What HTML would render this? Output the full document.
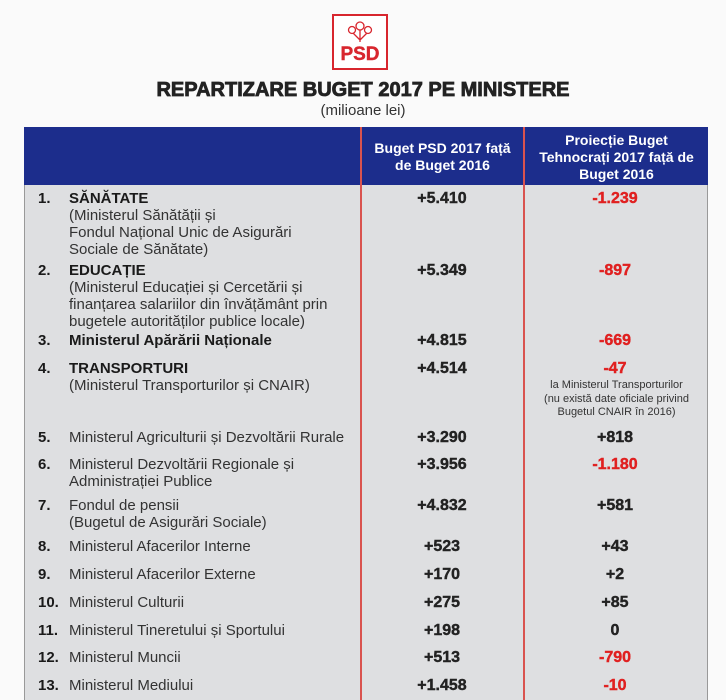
<!DOCTYPE html>
<html><head><meta charset="utf-8"><style>
body{margin:0;width:726px;height:700px;overflow:hidden;background:#fafafa;position:relative;font-family:"Liberation Sans",sans-serif;}
.a{position:absolute;white-space:nowrap}
.n{font-size:15px;color:#333;line-height:17px}
.b{font-weight:bold;color:#1a1a1a}
.v{font-weight:bold;font-size:16px;color:#222;text-align:center;width:160px;-webkit-text-stroke:0.4px currentColor}
.r{color:#e02020}
</style></head><body>
<div class="a" style="left:332px;top:14px;width:56px;height:56px;border:2px solid #d8262e;box-sizing:border-box;background:#fff"></div>
<svg class="a" style="left:345px;top:20px" width="30" height="24" viewBox="0 0 30 24"><g fill="none" stroke="#d8262e" stroke-width="1.3"><circle cx="15" cy="6" r="4"/><circle cx="7" cy="10" r="3.5"/><circle cx="23" cy="10" r="3.5"/><path d="M15 10v12M8 13l7 7M22 13l-7 7"/></g></svg>
<div class="a" style="left:332px;top:44px;width:56px;text-align:center;font-weight:bold;font-size:19px;color:#d8262e;-webkit-text-stroke:0.4px #d8262e">PSD</div>
<div class="a" style="left:0;width:726px;top:79px;text-align:center;font-weight:900;font-size:20px;color:#222;-webkit-text-stroke:0.8px #222">REPARTIZARE BUGET 2017 PE MINISTERE</div>
<div class="a" style="left:0;width:726px;top:102px;text-align:center;font-size:15px;color:#333">(milioane lei)</div>
<div class="a" style="left:24px;top:127px;width:684px;height:573px;background:#dedfe1;border-left:1px solid #999;border-right:1px solid #999;box-sizing:border-box"></div>
<div class="a" style="left:24px;top:127px;width:684px;height:58px;background:#1c2d8c"></div>
<div class="a" style="left:360px;top:127px;width:2px;height:573px;background:#d9534f"></div>
<div class="a" style="left:523px;top:127px;width:2px;height:573px;background:#d9534f"></div>
<div class="a" style="left:362px;top:140px;width:161px;text-align:center;color:#fff;font-weight:bold;font-size:14px;line-height:17px">Buget PSD 2017 față<br>de Buget 2016</div>
<div class="a" style="left:525px;top:132px;width:183px;text-align:center;color:#fff;font-weight:bold;font-size:14px;line-height:17px">Proiecție Buget<br>Tehnocrați 2017 față de<br>Buget 2016</div>

<div class="a n b" style="left:38px;top:190px">1.</div>
<div class="a n" style="left:69px;top:190px"><b class="b">SĂNĂTATE</b><br>(Ministerul Sănătății și<br>Fondul Național Unic de Asigurări<br>Sociale de Sănătate)</div>
<div class="a n b" style="left:38px;top:262px">2.</div>
<div class="a n" style="left:69px;top:262px"><b class="b">EDUCAȚIE</b><br>(Ministerul Educației și Cercetării și<br>finanțarea salariilor din învățământ prin<br>bugetele autorităților publice locale)</div>
<div class="a n b" style="left:38px;top:332px">3.</div>
<div class="a n b" style="left:69px;top:332px">Ministerul Apărării Naționale</div>
<div class="a n b" style="left:38px;top:360px">4.</div>
<div class="a n" style="left:69px;top:360px"><b class="b">TRANSPORTURI</b><br>(Ministerul Transporturilor și CNAIR)</div>
<div class="a n b" style="left:38px;top:429px">5.</div><div class="a n" style="left:69px;top:429px">Ministerul Agriculturii și Dezvoltării Rurale</div>
<div class="a n b" style="left:38px;top:456px">6.</div><div class="a n" style="left:69px;top:456px">Ministerul Dezvoltării Regionale și<br>Administrației Publice</div>
<div class="a n b" style="left:38px;top:497px">7.</div><div class="a n" style="left:69px;top:497px">Fondul de pensii<br>(Bugetul de Asigurări Sociale)</div>
<div class="a n b" style="left:38px;top:538px">8.</div><div class="a n" style="left:69px;top:538px">Ministerul Afacerilor Interne</div>
<div class="a n b" style="left:38px;top:566px">9.</div><div class="a n" style="left:69px;top:566px">Ministerul Afacerilor Externe</div>
<div class="a n b" style="left:38px;top:594px">10.</div><div class="a n" style="left:69px;top:594px">Ministerul Culturii</div>
<div class="a n b" style="left:38px;top:622px">11.</div><div class="a n" style="left:69px;top:622px">Ministerul Tineretului și Sportului</div>
<div class="a n b" style="left:38px;top:649px">12.</div><div class="a n" style="left:69px;top:649px">Ministerul Muncii</div>
<div class="a n b" style="left:38px;top:677px">13.</div><div class="a n" style="left:69px;top:677px">Ministerul Mediului</div>

<div class="a v" style="left:362px;top:190px">+5.410</div><div class="a v r" style="left:535px;top:190px">-1.239</div>
<div class="a v" style="left:362px;top:262px">+5.349</div><div class="a v r" style="left:535px;top:262px">-897</div>
<div class="a v" style="left:362px;top:332px">+4.815</div><div class="a v r" style="left:535px;top:332px">-669</div>
<div class="a v" style="left:362px;top:360px">+4.514</div><div class="a v r" style="left:535px;top:360px">-47</div>
<div class="a" style="left:525px;top:379px;width:183px;text-align:center;font-size:11px;line-height:13.5px;color:#333">la Ministerul Transporturilor<br>(nu există date oficiale privind<br>Bugetul CNAIR în 2016)</div>
<div class="a v" style="left:362px;top:429px">+3.290</div><div class="a v" style="left:535px;top:429px">+818</div>
<div class="a v" style="left:362px;top:456px">+3.956</div><div class="a v r" style="left:535px;top:456px">-1.180</div>
<div class="a v" style="left:362px;top:497px">+4.832</div><div class="a v" style="left:535px;top:497px">+581</div>
<div class="a v" style="left:362px;top:538px">+523</div><div class="a v" style="left:535px;top:538px">+43</div>
<div class="a v" style="left:362px;top:566px">+170</div><div class="a v" style="left:535px;top:566px">+2</div>
<div class="a v" style="left:362px;top:594px">+275</div><div class="a v" style="left:535px;top:594px">+85</div>
<div class="a v" style="left:362px;top:622px">+198</div><div class="a v" style="left:535px;top:622px">0</div>
<div class="a v" style="left:362px;top:649px">+513</div><div class="a v r" style="left:535px;top:649px">-790</div>
<div class="a v" style="left:362px;top:677px">+1.458</div><div class="a v r" style="left:535px;top:677px">-10</div>
</body></html>
